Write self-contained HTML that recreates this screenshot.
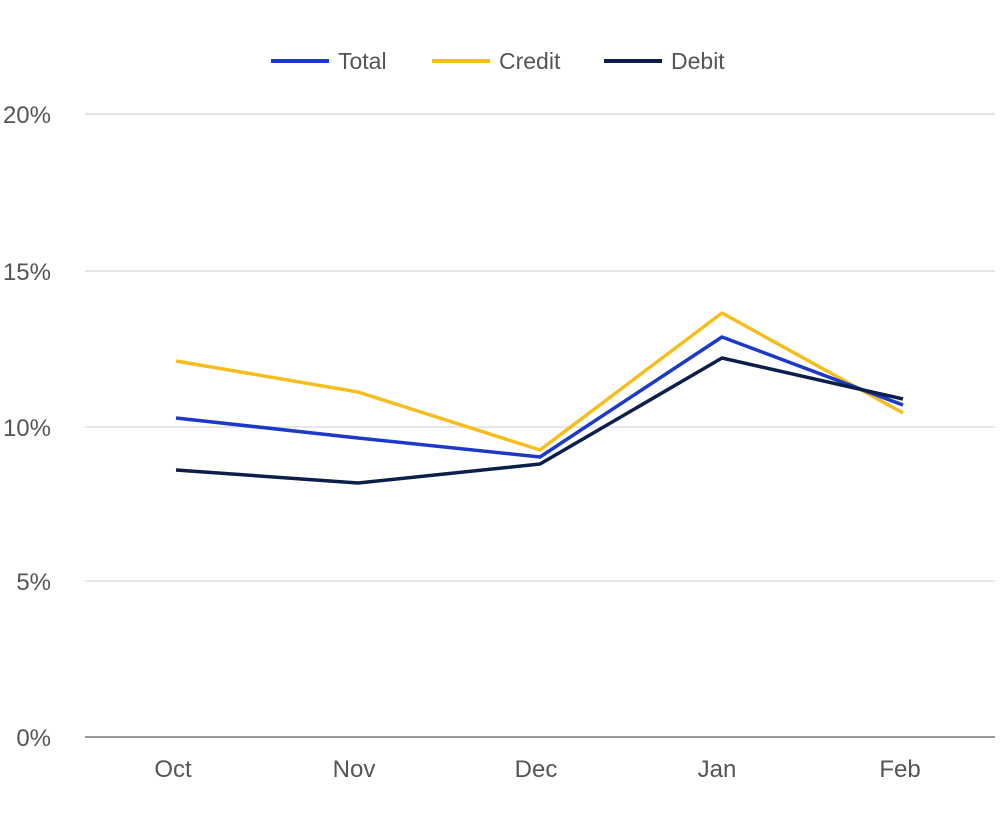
<!DOCTYPE html>
<html><head><meta charset="utf-8"><style>
html,body{margin:0;padding:0;background:#fff;}
svg text{font-family:"Liberation Sans",sans-serif;fill:#555;}
</style></head><body>
<svg width="1000" height="814" xmlns="http://www.w3.org/2000/svg">
<g stroke="#e6e6e6" stroke-width="2">
<line x1="85" y1="114" x2="995" y2="114"/>
<line x1="85" y1="271" x2="995" y2="271"/>
<line x1="85" y1="427" x2="995" y2="427"/>
<line x1="85" y1="581" x2="995" y2="581"/>
</g>
<line x1="85" y1="737" x2="995" y2="737" stroke="#999" stroke-width="2"/>
<g font-size="24" text-anchor="end">
<text x="51" y="123">20%</text>
<text x="51" y="280">15%</text>
<text x="51" y="436">10%</text>
<text x="51" y="590">5%</text>
<text x="51" y="746">0%</text>
</g>
<g font-size="24" text-anchor="middle">
<text x="173" y="777">Oct</text>
<text x="354" y="777">Nov</text>
<text x="536" y="777">Dec</text>
<text x="717" y="777">Jan</text>
<text x="900" y="777">Feb</text>
</g>
<g fill="none" stroke-width="3.5" stroke-linejoin="round">
<polyline stroke="#f5be1e" points="176,361 358,392 540,450 722,313 903,413"/>
<polyline stroke="#1c39c8" points="176,418 358,438 540,457 722,337 903,405"/>
<polyline stroke="#0b1f4a" points="176,470 358,483 540,464 722,358 903,399"/>
</g>
<g stroke-width="4">
<line x1="271" y1="61" x2="329" y2="61" stroke="#1c39c8"/>
<line x1="432" y1="61" x2="490" y2="61" stroke="#f5be1e"/>
<line x1="604" y1="61" x2="662" y2="61" stroke="#0b1f4a"/>
</g>
<g font-size="23">
<text x="338" y="69">Total</text>
<text x="499" y="69">Credit</text>
<text x="671" y="69">Debit</text>
</g>
</svg>
</body></html>
